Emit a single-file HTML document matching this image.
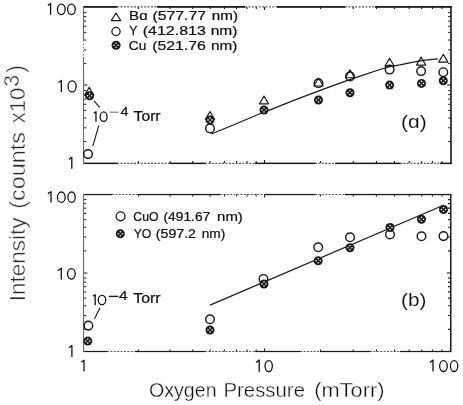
<!DOCTYPE html>
<html><head><meta charset="utf-8"><style>
html,body{margin:0;padding:0;background:#fff;}
body{width:463px;height:405px;overflow:hidden;font-family:"Liberation Sans",sans-serif;}
svg{display:block;will-change:transform;}
</style></head><body>
<svg width="463" height="405" viewBox="0 0 463 405">
<rect width="463" height="405" fill="#fff"/>
<rect x="83" y="6.0" width="34" height="1.80" fill="#1a1a1a"/>
<line x1="117" y1="6.90" x2="157" y2="6.90" stroke="#555" stroke-width="1.1" stroke-dasharray="2 1.4"/>
<rect x="157" y="6.0" width="88" height="1.80" fill="#1a1a1a"/>
<line x1="245" y1="6.90" x2="277" y2="6.90" stroke="#555" stroke-width="1.1" stroke-dasharray="2 1.4"/>
<rect x="277" y="6.0" width="68" height="1.80" fill="#1a1a1a"/>
<line x1="345" y1="6.90" x2="375" y2="6.90" stroke="#555" stroke-width="1.1" stroke-dasharray="2 1.4"/>
<rect x="375" y="6.0" width="76.80000000000001" height="1.80" fill="#1a1a1a"/>
<rect x="83" y="162.6" width="34" height="1.50" fill="#1a1a1a"/>
<line x1="117" y1="163.35" x2="170" y2="163.35" stroke="#555" stroke-width="1.1" stroke-dasharray="2 1.4"/>
<rect x="170" y="162.6" width="35" height="1.50" fill="#1a1a1a"/>
<line x1="205" y1="163.35" x2="255" y2="163.35" stroke="#555" stroke-width="1.1" stroke-dasharray="2 1.4"/>
<rect x="255" y="162.6" width="60" height="1.50" fill="#1a1a1a"/>
<line x1="315" y1="163.35" x2="335" y2="163.35" stroke="#555" stroke-width="1.1" stroke-dasharray="2 1.4"/>
<rect x="335" y="162.6" width="65" height="1.50" fill="#1a1a1a"/>
<line x1="400" y1="163.35" x2="440" y2="163.35" stroke="#555" stroke-width="1.1" stroke-dasharray="2 1.4"/>
<rect x="440" y="162.6" width="11.800000000000011" height="1.50" fill="#1a1a1a"/>
<rect x="83.0" y="6" width="1.10" height="34" fill="#6a6a6a"/>
<line x1="83.55" y1="40" x2="83.55" y2="57" stroke="#777" stroke-width="1" stroke-dasharray="1.5 2"/>
<rect x="83.0" y="57" width="1.10" height="107" fill="#6a6a6a"/>
<rect x="450.2" y="6" width="1.60" height="158.1" fill="#1a1a1a"/>
<rect x="83" y="193.9" width="29" height="1.30" fill="#1a1a1a"/>
<line x1="112" y1="194.55" x2="138" y2="194.55" stroke="#555" stroke-width="1.1" stroke-dasharray="2 1.4"/>
<rect x="138" y="193.9" width="82" height="1.30" fill="#1a1a1a"/>
<line x1="220" y1="194.55" x2="265" y2="194.55" stroke="#555" stroke-width="1.1" stroke-dasharray="2 1.4"/>
<rect x="265" y="193.9" width="50" height="1.30" fill="#1a1a1a"/>
<line x1="315" y1="194.55" x2="345" y2="194.55" stroke="#555" stroke-width="1.1" stroke-dasharray="2 1.4"/>
<rect x="345" y="193.9" width="65" height="1.30" fill="#1a1a1a"/>
<rect x="410" y="193.9" width="41.19999999999999" height="1.30" fill="#1a1a1a"/>
<rect x="83" y="350.9" width="24" height="1.20" fill="#1a1a1a"/>
<line x1="107" y1="351.50" x2="135" y2="351.50" stroke="#555" stroke-width="1.1" stroke-dasharray="2 1.4"/>
<rect x="135" y="350.9" width="70" height="1.20" fill="#1a1a1a"/>
<line x1="205" y1="351.50" x2="255" y2="351.50" stroke="#555" stroke-width="1.1" stroke-dasharray="2 1.4"/>
<rect x="255" y="350.9" width="45" height="1.20" fill="#1a1a1a"/>
<line x1="300" y1="351.50" x2="320" y2="351.50" stroke="#555" stroke-width="1.1" stroke-dasharray="2 1.4"/>
<rect x="320" y="350.9" width="50" height="1.20" fill="#1a1a1a"/>
<line x1="370" y1="351.50" x2="400" y2="351.50" stroke="#555" stroke-width="1.1" stroke-dasharray="2 1.4"/>
<rect x="400" y="350.9" width="51.19999999999999" height="1.20" fill="#1a1a1a"/>
<rect x="83.0" y="194" width="1.10" height="158" fill="#6a6a6a"/>
<rect x="450.0" y="194" width="1.50" height="158.10000000000002" fill="#1a1a1a"/>
<g stroke="#1a1a1a" stroke-width="1.1">
<line x1="84.2" y1="141.52" x2="86.2" y2="141.52"/>
<line x1="450.2" y1="141.52" x2="448.2" y2="141.52"/>
<line x1="84.2" y1="127.78" x2="86.2" y2="127.78"/>
<line x1="450.2" y1="127.78" x2="448.2" y2="127.78"/>
<line x1="84.2" y1="118.04" x2="86.2" y2="118.04"/>
<line x1="450.2" y1="118.04" x2="448.2" y2="118.04"/>
<line x1="84.2" y1="110.48" x2="86.2" y2="110.48"/>
<line x1="450.2" y1="110.48" x2="448.2" y2="110.48"/>
<line x1="84.2" y1="104.30" x2="86.2" y2="104.30"/>
<line x1="450.2" y1="104.30" x2="448.2" y2="104.30"/>
<line x1="84.2" y1="99.08" x2="86.2" y2="99.08"/>
<line x1="450.2" y1="99.08" x2="448.2" y2="99.08"/>
<line x1="84.2" y1="94.56" x2="86.2" y2="94.56"/>
<line x1="450.2" y1="94.56" x2="448.2" y2="94.56"/>
<line x1="84.2" y1="90.57" x2="86.2" y2="90.57"/>
<line x1="450.2" y1="90.57" x2="448.2" y2="90.57"/>
<line x1="84.2" y1="85.00" x2="87.2" y2="85.00"/>
<line x1="450.2" y1="85.00" x2="447.2" y2="85.00"/>
<line x1="84.2" y1="63.52" x2="86.2" y2="63.52"/>
<line x1="450.2" y1="63.52" x2="448.2" y2="63.52"/>
<line x1="84.2" y1="49.78" x2="86.2" y2="49.78"/>
<line x1="450.2" y1="49.78" x2="448.2" y2="49.78"/>
<line x1="84.2" y1="40.04" x2="86.2" y2="40.04"/>
<line x1="450.2" y1="40.04" x2="448.2" y2="40.04"/>
<line x1="84.2" y1="32.48" x2="86.2" y2="32.48"/>
<line x1="450.2" y1="32.48" x2="448.2" y2="32.48"/>
<line x1="84.2" y1="26.30" x2="86.2" y2="26.30"/>
<line x1="450.2" y1="26.30" x2="448.2" y2="26.30"/>
<line x1="84.2" y1="21.08" x2="86.2" y2="21.08"/>
<line x1="450.2" y1="21.08" x2="448.2" y2="21.08"/>
<line x1="84.2" y1="16.56" x2="86.2" y2="16.56"/>
<line x1="450.2" y1="16.56" x2="448.2" y2="16.56"/>
<line x1="84.2" y1="12.57" x2="86.2" y2="12.57"/>
<line x1="450.2" y1="12.57" x2="448.2" y2="12.57"/>
<line x1="138.34" y1="163.0" x2="138.34" y2="161.0"/>
<line x1="138.34" y1="7.0" x2="138.34" y2="9.0"/>
<line x1="170.12" y1="163.0" x2="170.12" y2="161.0"/>
<line x1="170.12" y1="7.0" x2="170.12" y2="9.0"/>
<line x1="192.67" y1="163.0" x2="192.67" y2="161.0"/>
<line x1="192.67" y1="7.0" x2="192.67" y2="9.0"/>
<line x1="210.16" y1="163.0" x2="210.16" y2="161.0"/>
<line x1="210.16" y1="7.0" x2="210.16" y2="9.0"/>
<line x1="224.46" y1="163.0" x2="224.46" y2="161.0"/>
<line x1="224.46" y1="7.0" x2="224.46" y2="9.0"/>
<line x1="236.54" y1="163.0" x2="236.54" y2="161.0"/>
<line x1="236.54" y1="7.0" x2="236.54" y2="9.0"/>
<line x1="247.01" y1="163.0" x2="247.01" y2="161.0"/>
<line x1="247.01" y1="7.0" x2="247.01" y2="9.0"/>
<line x1="256.24" y1="163.0" x2="256.24" y2="161.0"/>
<line x1="256.24" y1="7.0" x2="256.24" y2="9.0"/>
<line x1="264.50" y1="163.0" x2="264.50" y2="160.0"/>
<line x1="264.50" y1="7.0" x2="264.50" y2="10.0"/>
<line x1="320.49" y1="163.0" x2="320.49" y2="161.0"/>
<line x1="320.49" y1="7.0" x2="320.49" y2="9.0"/>
<line x1="353.24" y1="163.0" x2="353.24" y2="161.0"/>
<line x1="353.24" y1="7.0" x2="353.24" y2="9.0"/>
<line x1="376.48" y1="163.0" x2="376.48" y2="161.0"/>
<line x1="376.48" y1="7.0" x2="376.48" y2="9.0"/>
<line x1="394.51" y1="163.0" x2="394.51" y2="161.0"/>
<line x1="394.51" y1="7.0" x2="394.51" y2="9.0"/>
<line x1="409.24" y1="163.0" x2="409.24" y2="161.0"/>
<line x1="409.24" y1="7.0" x2="409.24" y2="9.0"/>
<line x1="421.69" y1="163.0" x2="421.69" y2="161.0"/>
<line x1="421.69" y1="7.0" x2="421.69" y2="9.0"/>
<line x1="432.47" y1="163.0" x2="432.47" y2="161.0"/>
<line x1="432.47" y1="7.0" x2="432.47" y2="9.0"/>
<line x1="441.99" y1="163.0" x2="441.99" y2="161.0"/>
<line x1="441.99" y1="7.0" x2="441.99" y2="9.0"/>
<line x1="84.2" y1="329.37" x2="86.2" y2="329.37"/>
<line x1="450.0" y1="329.37" x2="448.0" y2="329.37"/>
<line x1="84.2" y1="315.55" x2="86.2" y2="315.55"/>
<line x1="450.0" y1="315.55" x2="448.0" y2="315.55"/>
<line x1="84.2" y1="305.74" x2="86.2" y2="305.74"/>
<line x1="450.0" y1="305.74" x2="448.0" y2="305.74"/>
<line x1="84.2" y1="298.13" x2="86.2" y2="298.13"/>
<line x1="450.0" y1="298.13" x2="448.0" y2="298.13"/>
<line x1="84.2" y1="291.92" x2="86.2" y2="291.92"/>
<line x1="450.0" y1="291.92" x2="448.0" y2="291.92"/>
<line x1="84.2" y1="286.66" x2="86.2" y2="286.66"/>
<line x1="450.0" y1="286.66" x2="448.0" y2="286.66"/>
<line x1="84.2" y1="282.11" x2="86.2" y2="282.11"/>
<line x1="450.0" y1="282.11" x2="448.0" y2="282.11"/>
<line x1="84.2" y1="278.09" x2="86.2" y2="278.09"/>
<line x1="450.0" y1="278.09" x2="448.0" y2="278.09"/>
<line x1="84.2" y1="273.00" x2="87.2" y2="273.00"/>
<line x1="450.0" y1="273.00" x2="447.0" y2="273.00"/>
<line x1="84.2" y1="250.87" x2="86.2" y2="250.87"/>
<line x1="450.0" y1="250.87" x2="448.0" y2="250.87"/>
<line x1="84.2" y1="237.05" x2="86.2" y2="237.05"/>
<line x1="450.0" y1="237.05" x2="448.0" y2="237.05"/>
<line x1="84.2" y1="227.24" x2="86.2" y2="227.24"/>
<line x1="450.0" y1="227.24" x2="448.0" y2="227.24"/>
<line x1="84.2" y1="219.63" x2="86.2" y2="219.63"/>
<line x1="450.0" y1="219.63" x2="448.0" y2="219.63"/>
<line x1="84.2" y1="213.42" x2="86.2" y2="213.42"/>
<line x1="450.0" y1="213.42" x2="448.0" y2="213.42"/>
<line x1="84.2" y1="208.16" x2="86.2" y2="208.16"/>
<line x1="450.0" y1="208.16" x2="448.0" y2="208.16"/>
<line x1="84.2" y1="203.61" x2="86.2" y2="203.61"/>
<line x1="450.0" y1="203.61" x2="448.0" y2="203.61"/>
<line x1="84.2" y1="199.59" x2="86.2" y2="199.59"/>
<line x1="450.0" y1="199.59" x2="448.0" y2="199.59"/>
<line x1="138.34" y1="351.5" x2="138.34" y2="349.5"/>
<line x1="138.34" y1="194.5" x2="138.34" y2="196.5"/>
<line x1="170.12" y1="351.5" x2="170.12" y2="349.5"/>
<line x1="170.12" y1="194.5" x2="170.12" y2="196.5"/>
<line x1="192.67" y1="351.5" x2="192.67" y2="349.5"/>
<line x1="192.67" y1="194.5" x2="192.67" y2="196.5"/>
<line x1="210.16" y1="351.5" x2="210.16" y2="349.5"/>
<line x1="210.16" y1="194.5" x2="210.16" y2="196.5"/>
<line x1="224.46" y1="351.5" x2="224.46" y2="349.5"/>
<line x1="224.46" y1="194.5" x2="224.46" y2="196.5"/>
<line x1="236.54" y1="351.5" x2="236.54" y2="349.5"/>
<line x1="236.54" y1="194.5" x2="236.54" y2="196.5"/>
<line x1="247.01" y1="351.5" x2="247.01" y2="349.5"/>
<line x1="247.01" y1="194.5" x2="247.01" y2="196.5"/>
<line x1="256.24" y1="351.5" x2="256.24" y2="349.5"/>
<line x1="256.24" y1="194.5" x2="256.24" y2="196.5"/>
<line x1="264.50" y1="351.5" x2="264.50" y2="348.5"/>
<line x1="264.50" y1="194.5" x2="264.50" y2="197.5"/>
<line x1="320.49" y1="351.5" x2="320.49" y2="349.5"/>
<line x1="320.49" y1="194.5" x2="320.49" y2="196.5"/>
<line x1="353.24" y1="351.5" x2="353.24" y2="349.5"/>
<line x1="353.24" y1="194.5" x2="353.24" y2="196.5"/>
<line x1="376.48" y1="351.5" x2="376.48" y2="349.5"/>
<line x1="376.48" y1="194.5" x2="376.48" y2="196.5"/>
<line x1="394.51" y1="351.5" x2="394.51" y2="349.5"/>
<line x1="394.51" y1="194.5" x2="394.51" y2="196.5"/>
<line x1="409.24" y1="351.5" x2="409.24" y2="349.5"/>
<line x1="409.24" y1="194.5" x2="409.24" y2="196.5"/>
<line x1="421.69" y1="351.5" x2="421.69" y2="349.5"/>
<line x1="421.69" y1="194.5" x2="421.69" y2="196.5"/>
<line x1="432.47" y1="351.5" x2="432.47" y2="349.5"/>
<line x1="432.47" y1="194.5" x2="432.47" y2="196.5"/>
<line x1="441.99" y1="351.5" x2="441.99" y2="349.5"/>
<line x1="441.99" y1="194.5" x2="441.99" y2="196.5"/>
</g>
<path d="M47.90,5.40 L50.60,3.50 L50.60,14.80" fill="none" stroke="#111" stroke-width="1.3" stroke-linejoin="round"/>
<ellipse cx="61.30" cy="9.35" rx="3.85" ry="5.20" fill="none" stroke="#111" stroke-width="1.3"/>
<ellipse cx="71.40" cy="9.35" rx="3.85" ry="5.20" fill="none" stroke="#111" stroke-width="1.3"/>
<path d="M58.50,82.50 L61.40,80.50 L61.40,92.00" fill="none" stroke="#111" stroke-width="1.3" stroke-linejoin="round"/>
<ellipse cx="72.10" cy="86.40" rx="4.00" ry="5.55" fill="none" stroke="#111" stroke-width="1.3"/>
<path d="M68.90,159.60 L71.80,157.30 L71.80,168.70" fill="none" stroke="#111" stroke-width="1.3" stroke-linejoin="round"/>
<path d="M47.90,193.60 L51.00,191.70 L51.00,202.60" fill="none" stroke="#111" stroke-width="1.3" stroke-linejoin="round"/>
<ellipse cx="61.30" cy="197.20" rx="3.85" ry="5.20" fill="none" stroke="#111" stroke-width="1.3"/>
<ellipse cx="71.60" cy="197.20" rx="3.65" ry="5.20" fill="none" stroke="#111" stroke-width="1.3"/>
<path d="M57.90,270.70 L61.30,268.20 L61.30,279.40" fill="none" stroke="#111" stroke-width="1.3" stroke-linejoin="round"/>
<ellipse cx="71.40" cy="273.80" rx="3.85" ry="5.25" fill="none" stroke="#111" stroke-width="1.3"/>
<path d="M68.90,347.80 L71.90,345.60 L71.90,356.90" fill="none" stroke="#111" stroke-width="1.3" stroke-linejoin="round"/>
<path d="M81.20,362.30 L84.00,360.30 L84.00,371.50" fill="none" stroke="#111" stroke-width="1.3" stroke-linejoin="round"/>
<path d="M256.10,362.50 L259.20,359.90 L259.20,371.80" fill="none" stroke="#111" stroke-width="1.3" stroke-linejoin="round"/>
<ellipse cx="268.70" cy="366.10" rx="3.65" ry="5.55" fill="none" stroke="#111" stroke-width="1.3"/>
<path d="M430.00,362.60 L433.00,360.10 L433.00,371.50" fill="none" stroke="#111" stroke-width="1.3" stroke-linejoin="round"/>
<ellipse cx="443.50" cy="366.10" rx="3.85" ry="5.40" fill="none" stroke="#111" stroke-width="1.3"/>
<ellipse cx="454.10" cy="366.10" rx="3.65" ry="5.40" fill="none" stroke="#111" stroke-width="1.3"/>
<path d="M93.90,113.10 L96.00,111.80 L96.00,121.70" fill="none" stroke="#111" stroke-width="1.3" stroke-linejoin="round"/>
<ellipse cx="103.60" cy="116.70" rx="3.45" ry="4.75" fill="none" stroke="#111" stroke-width="1.3"/>
<path d="M92.90,296.30 L95.20,294.80 L95.20,305.20" fill="none" stroke="#111" stroke-width="1.3" stroke-linejoin="round"/>
<ellipse cx="102.00" cy="300.00" rx="3.75" ry="4.55" fill="none" stroke="#111" stroke-width="1.3"/>
<path d="M211.20,134.00 L234.50,124.50 L258.70,114.20 L270.00,109.90 L293.80,100.40 L317.50,91.40 L341.30,82.60 L360.00,76.10 L380.00,69.50 L389.60,66.70 L400.00,64.80 L412.00,62.30 L425.00,60.10 L438.00,58.80" fill="none" stroke="#1a1a1a" stroke-width="1.2" stroke-linejoin="round"/>
<path d="M210.00,305.10 L443.50,205.30" fill="none" stroke="#1a1a1a" stroke-width="1.2" stroke-linejoin="round"/>
<g stroke="#1a1a1a" stroke-width="1.1" fill="none">
<path d="M93.8,100.7 L99.8,107.7"/>
<path d="M98.8,125.5 L92.8,146.2"/>
<path d="M94.4,318.9 L100.0,307.8"/>
<path d="M109.9,112.2 L118.5,112.2" stroke="#666" stroke-width="1"/>
<path d="M108.8,296.4 L118.4,296.4" stroke-width="1.4"/>
</g>
<path d="M84.60,95.25 L89.20,87.35 L93.80,95.25 Z" fill="none" stroke="#1a1a1a" stroke-width="1.15" stroke-linejoin="round"/>
<path d="M205.40,119.35 L210.00,111.45 L214.60,119.35 Z" fill="none" stroke="#1a1a1a" stroke-width="1.15" stroke-linejoin="round"/>
<path d="M259.40,103.85 L264.00,95.95 L268.60,103.85 Z" fill="none" stroke="#1a1a1a" stroke-width="1.15" stroke-linejoin="round"/>
<path d="M313.90,85.95 L318.50,78.05 L323.10,85.95 Z" fill="none" stroke="#1a1a1a" stroke-width="1.15" stroke-linejoin="round"/>
<path d="M345.40,77.75 L350.00,69.85 L354.60,77.75 Z" fill="none" stroke="#1a1a1a" stroke-width="1.15" stroke-linejoin="round"/>
<path d="M385.00,66.15 L389.60,58.25 L394.20,66.15 Z" fill="none" stroke="#1a1a1a" stroke-width="1.15" stroke-linejoin="round"/>
<path d="M416.50,65.05 L421.10,57.15 L425.70,65.05 Z" fill="none" stroke="#1a1a1a" stroke-width="1.15" stroke-linejoin="round"/>
<path d="M438.70,62.15 L443.30,54.25 L447.90,62.15 Z" fill="none" stroke="#1a1a1a" stroke-width="1.15" stroke-linejoin="round"/>
<circle cx="88.00" cy="154.10" r="4.3" fill="none" stroke="#1a1a1a" stroke-width="1.45"/>
<circle cx="210.00" cy="128.40" r="4.3" fill="none" stroke="#1a1a1a" stroke-width="1.45"/>
<circle cx="318.50" cy="83.30" r="4.3" fill="none" stroke="#1a1a1a" stroke-width="1.45"/>
<circle cx="350.00" cy="76.40" r="4.3" fill="none" stroke="#1a1a1a" stroke-width="1.45"/>
<circle cx="389.60" cy="69.60" r="4.3" fill="none" stroke="#1a1a1a" stroke-width="1.45"/>
<circle cx="421.10" cy="71.10" r="4.3" fill="none" stroke="#1a1a1a" stroke-width="1.45"/>
<circle cx="443.30" cy="72.20" r="4.3" fill="none" stroke="#1a1a1a" stroke-width="1.45"/>
<circle cx="88.40" cy="325.60" r="4.3" fill="none" stroke="#1a1a1a" stroke-width="1.45"/>
<circle cx="210.00" cy="319.30" r="4.3" fill="none" stroke="#1a1a1a" stroke-width="1.45"/>
<circle cx="263.50" cy="278.90" r="4.3" fill="none" stroke="#1a1a1a" stroke-width="1.45"/>
<circle cx="318.20" cy="247.30" r="4.3" fill="none" stroke="#1a1a1a" stroke-width="1.45"/>
<circle cx="350.00" cy="237.30" r="4.3" fill="none" stroke="#1a1a1a" stroke-width="1.45"/>
<circle cx="390.00" cy="234.40" r="4.3" fill="none" stroke="#1a1a1a" stroke-width="1.45"/>
<circle cx="421.50" cy="236.30" r="4.3" fill="none" stroke="#1a1a1a" stroke-width="1.45"/>
<circle cx="443.50" cy="236.10" r="4.3" fill="none" stroke="#1a1a1a" stroke-width="1.45"/>
<circle cx="89.60" cy="95.80" r="4.5" fill="#1a1a1a"/><circle cx="89.60" cy="93.80" r="0.8" fill="#fff"/><circle cx="91.60" cy="95.80" r="0.8" fill="#fff"/><circle cx="89.60" cy="97.80" r="0.8" fill="#fff"/><circle cx="87.60" cy="95.80" r="0.8" fill="#fff"/>
<circle cx="210.00" cy="119.90" r="4.5" fill="#1a1a1a"/><circle cx="210.00" cy="117.90" r="0.8" fill="#fff"/><circle cx="212.00" cy="119.90" r="0.8" fill="#fff"/><circle cx="210.00" cy="121.90" r="0.8" fill="#fff"/><circle cx="208.00" cy="119.90" r="0.8" fill="#fff"/>
<circle cx="264.00" cy="110.00" r="4.5" fill="#1a1a1a"/><circle cx="264.00" cy="108.00" r="0.8" fill="#fff"/><circle cx="266.00" cy="110.00" r="0.8" fill="#fff"/><circle cx="264.00" cy="112.00" r="0.8" fill="#fff"/><circle cx="262.00" cy="110.00" r="0.8" fill="#fff"/>
<circle cx="318.50" cy="100.00" r="4.5" fill="#1a1a1a"/><circle cx="318.50" cy="98.00" r="0.8" fill="#fff"/><circle cx="320.50" cy="100.00" r="0.8" fill="#fff"/><circle cx="318.50" cy="102.00" r="0.8" fill="#fff"/><circle cx="316.50" cy="100.00" r="0.8" fill="#fff"/>
<circle cx="350.00" cy="92.80" r="4.5" fill="#1a1a1a"/><circle cx="350.00" cy="90.80" r="0.8" fill="#fff"/><circle cx="352.00" cy="92.80" r="0.8" fill="#fff"/><circle cx="350.00" cy="94.80" r="0.8" fill="#fff"/><circle cx="348.00" cy="92.80" r="0.8" fill="#fff"/>
<circle cx="389.60" cy="85.10" r="4.5" fill="#1a1a1a"/><circle cx="389.60" cy="83.10" r="0.8" fill="#fff"/><circle cx="391.60" cy="85.10" r="0.8" fill="#fff"/><circle cx="389.60" cy="87.10" r="0.8" fill="#fff"/><circle cx="387.60" cy="85.10" r="0.8" fill="#fff"/>
<circle cx="421.50" cy="83.40" r="4.5" fill="#1a1a1a"/><circle cx="421.50" cy="81.40" r="0.8" fill="#fff"/><circle cx="423.50" cy="83.40" r="0.8" fill="#fff"/><circle cx="421.50" cy="85.40" r="0.8" fill="#fff"/><circle cx="419.50" cy="83.40" r="0.8" fill="#fff"/>
<circle cx="443.30" cy="80.70" r="4.5" fill="#1a1a1a"/><circle cx="443.30" cy="78.70" r="0.8" fill="#fff"/><circle cx="445.30" cy="80.70" r="0.8" fill="#fff"/><circle cx="443.30" cy="82.70" r="0.8" fill="#fff"/><circle cx="441.30" cy="80.70" r="0.8" fill="#fff"/>
<circle cx="87.80" cy="341.10" r="4.5" fill="#1a1a1a"/><circle cx="87.80" cy="339.10" r="0.8" fill="#fff"/><circle cx="89.80" cy="341.10" r="0.8" fill="#fff"/><circle cx="87.80" cy="343.10" r="0.8" fill="#fff"/><circle cx="85.80" cy="341.10" r="0.8" fill="#fff"/>
<circle cx="210.00" cy="330.00" r="4.5" fill="#1a1a1a"/><circle cx="210.00" cy="328.00" r="0.8" fill="#fff"/><circle cx="212.00" cy="330.00" r="0.8" fill="#fff"/><circle cx="210.00" cy="332.00" r="0.8" fill="#fff"/><circle cx="208.00" cy="330.00" r="0.8" fill="#fff"/>
<circle cx="264.00" cy="284.00" r="4.5" fill="#1a1a1a"/><circle cx="264.00" cy="282.00" r="0.8" fill="#fff"/><circle cx="266.00" cy="284.00" r="0.8" fill="#fff"/><circle cx="264.00" cy="286.00" r="0.8" fill="#fff"/><circle cx="262.00" cy="284.00" r="0.8" fill="#fff"/>
<circle cx="318.20" cy="260.70" r="4.5" fill="#1a1a1a"/><circle cx="318.20" cy="258.70" r="0.8" fill="#fff"/><circle cx="320.20" cy="260.70" r="0.8" fill="#fff"/><circle cx="318.20" cy="262.70" r="0.8" fill="#fff"/><circle cx="316.20" cy="260.70" r="0.8" fill="#fff"/>
<circle cx="350.00" cy="247.80" r="4.5" fill="#1a1a1a"/><circle cx="350.00" cy="245.80" r="0.8" fill="#fff"/><circle cx="352.00" cy="247.80" r="0.8" fill="#fff"/><circle cx="350.00" cy="249.80" r="0.8" fill="#fff"/><circle cx="348.00" cy="247.80" r="0.8" fill="#fff"/>
<circle cx="390.00" cy="227.50" r="4.5" fill="#1a1a1a"/><circle cx="390.00" cy="225.50" r="0.8" fill="#fff"/><circle cx="392.00" cy="227.50" r="0.8" fill="#fff"/><circle cx="390.00" cy="229.50" r="0.8" fill="#fff"/><circle cx="388.00" cy="227.50" r="0.8" fill="#fff"/>
<circle cx="421.50" cy="219.20" r="4.5" fill="#1a1a1a"/><circle cx="421.50" cy="217.20" r="0.8" fill="#fff"/><circle cx="423.50" cy="219.20" r="0.8" fill="#fff"/><circle cx="421.50" cy="221.20" r="0.8" fill="#fff"/><circle cx="419.50" cy="219.20" r="0.8" fill="#fff"/>
<circle cx="443.50" cy="209.50" r="4.5" fill="#1a1a1a"/><circle cx="443.50" cy="207.50" r="0.8" fill="#fff"/><circle cx="445.50" cy="209.50" r="0.8" fill="#fff"/><circle cx="443.50" cy="211.50" r="0.8" fill="#fff"/><circle cx="441.50" cy="209.50" r="0.8" fill="#fff"/>
<path d="M111.30,20.60 L116.00,13.00 L120.70,20.60 Z" fill="none" stroke="#1a1a1a" stroke-width="1.15" stroke-linejoin="round"/>
<circle cx="116.00" cy="31.50" r="4.1" fill="none" stroke="#1a1a1a" stroke-width="1.3"/>
<circle cx="116.10" cy="45.30" r="4.5" fill="#1a1a1a"/><circle cx="116.10" cy="43.30" r="0.8" fill="#fff"/><circle cx="118.10" cy="45.30" r="0.8" fill="#fff"/><circle cx="116.10" cy="47.30" r="0.8" fill="#fff"/><circle cx="114.10" cy="45.30" r="0.8" fill="#fff"/>
<circle cx="120.60" cy="216.30" r="4.4" fill="none" stroke="#1a1a1a" stroke-width="1.35"/>
<circle cx="120.30" cy="233.80" r="4.5" fill="#1a1a1a"/><circle cx="120.30" cy="231.80" r="0.8" fill="#fff"/><circle cx="122.30" cy="233.80" r="0.8" fill="#fff"/><circle cx="120.30" cy="235.80" r="0.8" fill="#fff"/><circle cx="118.30" cy="233.80" r="0.8" fill="#fff"/>
<g font-family="Liberation Sans" font-size="100" fill="#111" stroke="#fff">
<text transform="matrix(0.19671 0 0 0.20986 148.91 396.99)" stroke-width="1.72" stroke="#fff" fill="#111">Oxygen</text>
<text transform="matrix(0.20384 0 0 0.20986 223.47 396.99)" stroke-width="1.69" stroke="#fff" fill="#111">Pressure</text>
<text transform="matrix(0.21813 0 0 0.20986 314.19 396.99)" stroke-width="1.64" stroke="#fff" fill="#111">(mTorr)</text>
<text transform="matrix(0.15088 0 0 0.13188 129.09 20.10)" stroke-width="1.77" stroke="#111" fill="#111">Bɑ</text>
<text transform="matrix(0.15797 0 0 0.13188 152.45 20.10)" stroke-width="1.73" stroke="#111" fill="#111">(577.77</text>
<text transform="matrix(0.15225 0 0 0.13188 211.79 20.10)" stroke-width="1.76" stroke="#111" fill="#111">nm)</text>
<text transform="matrix(0.12222 0 0 0.12609 129.26 34.80)" stroke-width="2.01" stroke="#111" fill="#111">Y</text>
<text transform="matrix(0.15993 0 0 0.12609 142.74 34.80)" stroke-width="1.76" stroke="#111" fill="#111">(412.813</text>
<text transform="matrix(0.15536 0 0 0.12609 210.67 34.80)" stroke-width="1.79" stroke="#111" fill="#111">nm)</text>
<text transform="matrix(0.13681 0 0 0.13662 128.82 49.96)" stroke-width="1.83" stroke="#111" fill="#111">Cu</text>
<text transform="matrix(0.15810 0 0 0.13662 152.25 49.96)" stroke-width="1.70" stroke="#111" fill="#111">(521.76</text>
<text transform="matrix(0.15287 0 0 0.13662 211.08 49.96)" stroke-width="1.73" stroke="#111" fill="#111">nm)</text>
<text transform="matrix(0.12255 0 0 0.12113 133.29 220.58)" stroke-width="2.05" stroke="#111" fill="#111">CuO</text>
<text transform="matrix(0.13788 0 0 0.12113 163.47 220.58)" stroke-width="1.93" stroke="#111" fill="#111">(491.67</text>
<text transform="matrix(0.14915 0 0 0.12113 217.11 220.58)" stroke-width="1.86" stroke="#111" fill="#111">nm)</text>
<text transform="matrix(0.12201 0 0 0.12174 133.66 238.00)" stroke-width="2.05" stroke="#111" fill="#111">YO</text>
<text transform="matrix(0.14216 0 0 0.12174 155.75 238.00)" stroke-width="1.90" stroke="#111" fill="#111">(597.2</text>
<text transform="matrix(0.13672 0 0 0.12174 201.68 238.00)" stroke-width="1.94" stroke="#111" fill="#111">nm)</text>
<text transform="matrix(0.21007 0 0 0.19255 401.04 127.66)" stroke-width="0.50" stroke="#fff" fill="#111">(ɑ)</text>
<text transform="matrix(0.20736 0 0 0.19255 401.06 305.76)" stroke-width="0.50" stroke="#fff" fill="#111">(b)</text>
<text transform="matrix(0.14314 0 0 0.12286 120.41 116.10)" stroke-width="1.89" stroke="#111" fill="#111">4</text>
<text transform="matrix(0.15688 0 0 0.14143 133.59 121.26)" stroke-width="1.68" stroke="#111" fill="#111">Torr</text>
<text transform="matrix(0.15490 0 0 0.12571 118.89 300.40)" stroke-width="1.79" stroke="#111" fill="#111">4</text>
<text transform="matrix(0.15925 0 0 0.14714 133.18 303.45)" stroke-width="1.63" stroke="#111" fill="#111">Torr</text>
<text transform="matrix(0 -0.22536 0.21884 0 24.50 301.33)" stroke-width="2.03" stroke="#fff" fill="#2a2a2a">Intensity</text>
<text transform="matrix(0 -0.23359 0.21884 0 24.50 208.70)" stroke-width="1.99" stroke="#fff" fill="#2a2a2a">(counts</text>
<text transform="matrix(0 -0.22029 0.21884 0 24.50 123.32)" stroke-width="2.05" stroke="#fff" fill="#2a2a2a">x10</text>
<text transform="matrix(0 -0.21224 0.21549 0 19.08 86.84)" stroke-width="2.10" stroke="#fff" fill="#2a2a2a">3</text>
<text transform="matrix(0 -0.22857 0.24149 0 23.53 72.80)" stroke-width="1.92" stroke="#fff" fill="#2a2a2a">)</text>
</g>
</svg>
</body></html>
